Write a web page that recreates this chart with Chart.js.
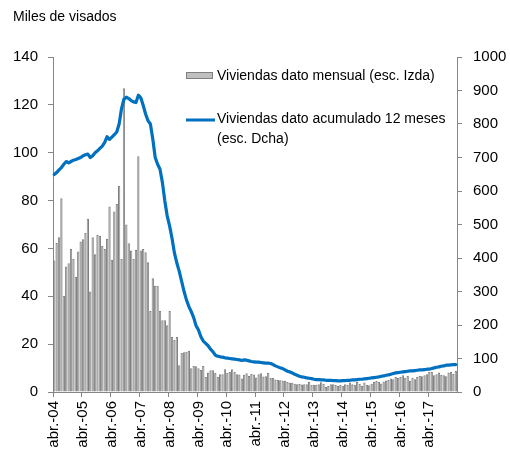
<!DOCTYPE html>
<html><head><meta charset="utf-8">
<script src="https://cdn.jsdelivr.net/npm/chart.js@4/dist/chart.umd.min.js"></script>
<style>html,body{margin:0;padding:0;background:#fff}</style>
</head><body>
<canvas id="c" width="510" height="456"></canvas>
<script>
// Category axis: monthly, abr.-04 .. mar.-18
const monthNames = ['abr.','may.','jun.','jul.','ago.','sep.','oct.','nov.','dic.','ene.','feb.','mar.'];
const startYear = 2004;
const nYears = 14;
const categories = [];
for (let y = 0; y < nYears; y++) {
  for (let m = 0; m < 12; m++) {
    const yr = startYear + y + (m >= 9 ? 1 : 0);
    categories.push(monthNames[m] + '-' + String(yr % 100).padStart(2, '0'));
  }
}

// Viviendas dato mensual (miles, esc. Izda)
const mensual = [
  55, 62.3, 64.7, 81, 40.2, 52.4, 53.8, 59.8, 55.6, 48.2, 58.7, 62.9,
  63.8, 66.5, 72.4, 42, 64.7, 57.6, 65.6, 65.3, 61, 59.8, 63.9, 77.5,
  55.3, 75.4, 78.6, 86.2, 55.6, 126.9,
  70, 62.2, 59.1, 55.6, 59.4, 98.5,
  59.1, 59.8, 58.4, 54.2, 33.9, 47.5, 44.4, 44.4, 33.9, 30, 30, 27.9,
  33.9, 23, 21.7, 23, 11.2, 16.3, 16.6, 16.8, 17.2,
  9.9, 10.9, 10.8, 9.9, 9.2, 10.9, 6.3, 8.1, 9.1, 9.1, 8, 6.3, 7.4, 7.4, 9.5, 8, 8.4, 9.5, 8.4, 7.4, 7.3, 5.6, 7.2, 7.8,
  6.7, 7.5, 7.3, 6.1, 7.4, 7.8, 6.5, 6.6, 8, 5.8, 5.9, 5.2, 5, 4.9, 4.8, 4.7, 4.2, 3.9, 3.9, 3.5, 3.2, 3.3, 3.1,
  3.2, 3.2, 4.3, 3, 3, 3, 3.2, 4.1, 3.5, 2.1, 2.5, 3.2,
  3.2, 3, 2.5, 3, 2.6, 3.2, 3, 4, 3.2, 3, 4.2, 3.5, 2.6, 4, 3, 2.8,
  3.4, 4.2, 4.7, 4.2, 3.6, 4.4, 4.8, 5, 5.6, 5.3, 6.3, 5.8,
  6.3, 7, 6, 6.7, 4.7, 6, 5.3, 6.3, 6.7, 6.6, 7, 7.4, 8.4, 8.4, 7, 7.4, 8.1, 7.2, 7, 6.6, 8.1, 8.4, 7.5, 8.8
];

// Viviendas dato acumulado 12 meses (miles, esc. Dcha)
const acumulado = [
  649, 655, 663, 670, 680, 688, 684, 688, 692, 694, 697, 700,
  705, 708, 710, 700, 705, 714, 720, 727, 734, 745, 762, 754,
  761, 768, 776, 800, 846, 874, 880, 876, 870, 866, 864, 886,
  878, 856, 830, 810, 800, 755, 700, 680, 665, 625, 570, 525,
  495, 458, 415, 385, 360, 330, 300, 275, 255, 240, 222, 198,
  185, 165, 152, 145, 138, 128, 120, 110, 107, 105, 104, 102,
  101, 100, 99, 98, 97, 96, 94, 96, 95, 93, 91, 90,
  89, 89, 88, 87, 86, 86, 85, 82, 78, 75, 72, 70,
  66, 62, 60, 57, 53, 50, 47, 45, 44, 42, 41, 40,
  38, 37, 37, 36, 36, 35, 35, 35, 34, 34, 33, 33,
  34, 34, 35, 35, 36, 36, 37, 38, 38, 39, 40, 41,
  42, 43, 44, 45, 47, 48, 50, 51, 53, 55, 57, 58,
  59, 60, 61, 62, 63, 63, 64, 65, 66, 66, 67, 68,
  68, 70, 72, 74, 75, 77, 78, 80, 80, 81, 82, 82
];

const leftTicks = [0, 20, 40, 60, 80, 100, 120, 140];
const rightTicks = [0, 100, 200, 300, 400, 500, 600, 700, 800, 900, 1000];

const titleText = 'Miles de visados';
const barLabel = 'Viviendas dato mensual (esc. Izda)';
const lineLabel = ['Viviendas dato acumulado 12 meses', '(esc. Dcha)'];

const AXIS = '#868686';
const FONT = 'Liberation Sans, Arial, sans-serif';

const overlay = {
  id: 'overlay',
  afterDraw(chart) {
    const ctx = chart.ctx;
    const ca = chart.chartArea;
    const barDs = chart.data.datasets[1];
    const lineDs = chart.data.datasets[0];
    ctx.save();
    ctx.fillStyle = '#000';
    ctx.font = '14px ' + FONT;
    ctx.textBaseline = 'middle';
    ctx.textAlign = 'left';
    ctx.fillText(titleText, 13, 17);
    // legend item 1
    const lx = ca.left + 133;
    ctx.fillStyle = barDs.backgroundColor;
    ctx.strokeStyle = barDs.borderColor;
    ctx.lineWidth = 1;
    ctx.fillRect(lx, 72.5, 27, 6);
    ctx.strokeRect(lx + 0.5, 72.5, 26, 6);
    ctx.fillStyle = '#000';
    ctx.fillText(barDs.label, lx + 31, 76);
    // legend item 2
    ctx.strokeStyle = lineDs.borderColor;
    ctx.lineWidth = 3;
    ctx.beginPath();
    ctx.moveTo(lx, 120);
    ctx.lineTo(lx + 29, 120);
    ctx.stroke();
    ctx.fillText(lineLabel[0], lx + 31, 119);
    ctx.fillText(lineLabel[1], lx + 31, 139);
    ctx.restore();
  }
};

new Chart(document.getElementById('c'), {
  type: 'bar',
  data: {
    labels: categories,
    datasets: [
      {
        type: 'line', label: lineLabel.join(' '), data: acumulado, yAxisID: 'y1',
        borderColor: '#0070c0', borderWidth: 3.2, pointRadius: 0, tension: 0, order: 0,
        borderJoinStyle: 'round', borderCapStyle: 'round'
      },
      {
        type: 'bar', label: barLabel, data: mensual, yAxisID: 'y',
        backgroundColor: '#bfbfbf', borderColor: '#7f7f7f', borderWidth: 1,
        barPercentage: 0.95, categoryPercentage: 1, order: 1
      }
    ]
  },
  options: {
    responsive: false,
    animation: false,
    layout: { padding: { top: 57, left: 0, right: 0, bottom: 0 } },
    plugins: { legend: { display: false }, tooltip: { enabled: false }, title: { display: false } },
    scales: {
      x: {
        offset: true,
        grid: {
          offset: true, drawOnChartArea: false, tickLength: 5,
          tickColor: (c) => (c.index % 12 === 0 ? AXIS : 'rgba(0,0,0,0)')
        },
        border: { color: AXIS },
        ticks: {
          autoSkip: false, maxRotation: 90, minRotation: 90, padding: 4,
          color: '#000', font: { family: FONT, size: 15 },
          callback: (v, i) => (i % 12 === 0 ? categories[i] : '')
        },
        afterFit: (s) => { s.height = 64; }
      },
      y: {
        position: 'left', min: 0, max: 140,
        afterBuildTicks: (s) => { s.ticks = leftTicks.map(v => ({ value: v })); },
        ticks: { padding: 10, color: '#000', font: { family: FONT, size: 15 }, callback: (v) => String(v) },
        grid: { drawOnChartArea: false, tickLength: 5, tickColor: AXIS },
        border: { color: AXIS },
        afterFit: (s) => { s.width = 53; }
      },
      y1: {
        position: 'right', min: 0, max: 1000,
        afterBuildTicks: (s) => { s.ticks = rightTicks.map(v => ({ value: v })); },
        ticks: { padding: 11, color: '#000', font: { family: FONT, size: 15 }, callback: (v) => String(v) },
        grid: { drawOnChartArea: false, tickLength: 5, tickColor: AXIS },
        border: { color: AXIS },
        afterFit: (s) => { s.width = 53; }
      }
    }
  },
  plugins: [overlay]
});
</script>
</body></html>
